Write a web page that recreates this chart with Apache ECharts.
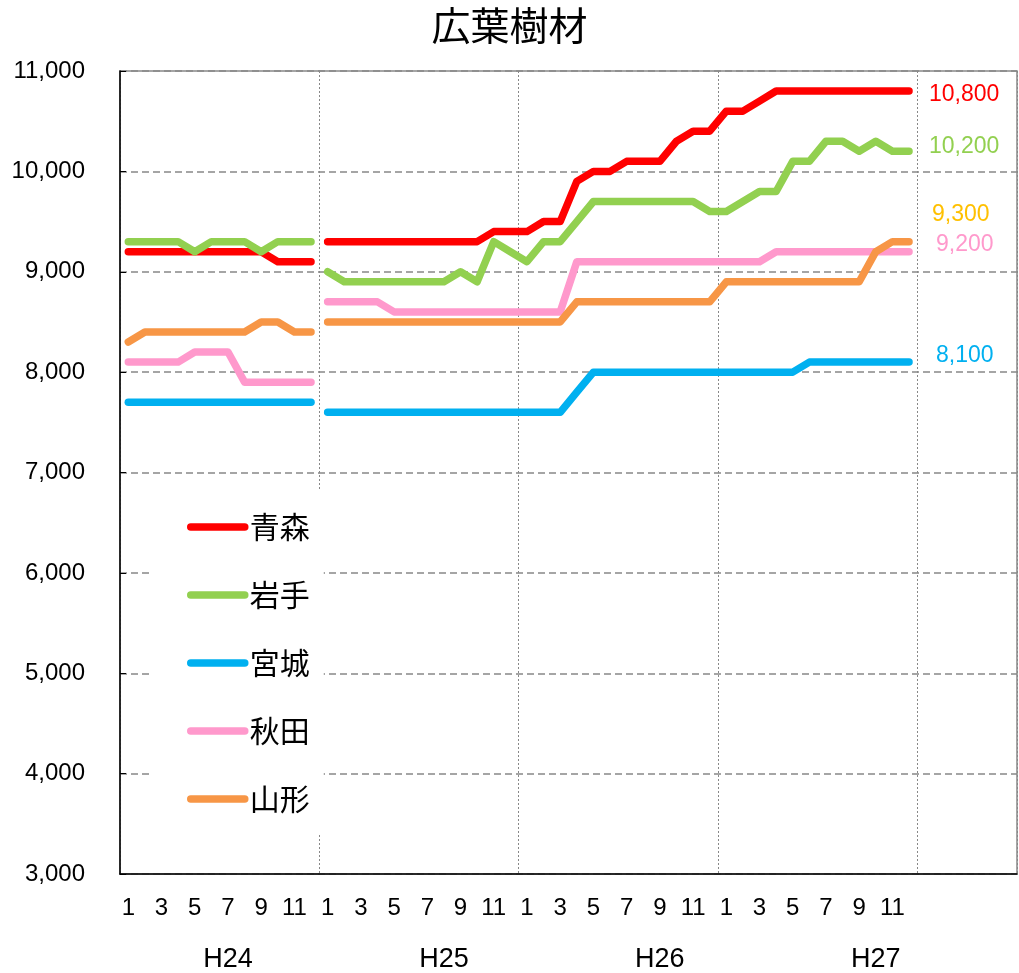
<!DOCTYPE html>
<html>
<head>
<meta charset="utf-8">
<script src="https://cdn.jsdelivr.net/npm/echarts@6/dist/echarts.min.js"></script>
<style>
  html, body { margin: 0; padding: 0; background: #fff; }
  #chart { width: 1019px; height: 973px; }
</style>
</head>
<body>
<div id="chart"></div>
<script>
  // months H24 .. H27 (48 points), the last 6 categories are empty space
  const months = [1, 2, 3, 4, 5, 6, 7, 8, 9, 10, 11, 12];
  const years = ['H24', 'H25', 'H26', 'H27'];

  const aomori = [
    9200, 9200, 9200, 9200, 9200, 9200, 9200, 9200, 9200, 9100, 9100, 9100,
    9300, 9300, 9300, 9300, 9300, 9300, 9300, 9300, 9300, 9300, 9400, 9400,
    9400, 9500, 9500, 9900, 10000, 10000, 10100, 10100, 10100, 10300, 10400, 10400,
    10600, 10600, 10700, 10800, 10800, 10800, 10800, 10800, 10800, 10800, 10800, 10800
  ];
  const iwate = [
    9300, 9300, 9300, 9300, 9200, 9300, 9300, 9300, 9200, 9300, 9300, 9300,
    9000, 8900, 8900, 8900, 8900, 8900, 8900, 8900, 9000, 8900, 9300, 9200,
    9100, 9300, 9300, 9500, 9700, 9700, 9700, 9700, 9700, 9700, 9700, 9600,
    9600, 9700, 9800, 9800, 10100, 10100, 10300, 10300, 10200, 10300, 10200, 10200
  ];
  const miyagi = [
    7700, 7700, 7700, 7700, 7700, 7700, 7700, 7700, 7700, 7700, 7700, 7700,
    7600, 7600, 7600, 7600, 7600, 7600, 7600, 7600, 7600, 7600, 7600, 7600,
    7600, 7600, 7600, 7800, 8000, 8000, 8000, 8000, 8000, 8000, 8000, 8000,
    8000, 8000, 8000, 8000, 8000, 8100, 8100, 8100, 8100, 8100, 8100, 8100
  ];
  const akita = [
    8100, 8100, 8100, 8100, 8200, 8200, 8200, 7900, 7900, 7900, 7900, 7900,
    8700, 8700, 8700, 8700, 8600, 8600, 8600, 8600, 8600, 8600, 8600, 8600,
    8600, 8600, 8600, 9100, 9100, 9100, 9100, 9100, 9100, 9100, 9100, 9100,
    9100, 9100, 9100, 9200, 9200, 9200, 9200, 9200, 9200, 9200, 9200, 9200
  ];
  const yamagata = [
    8300, 8400, 8400, 8400, 8400, 8400, 8400, 8400, 8500, 8500, 8400, 8400,
    8500, 8500, 8500, 8500, 8500, 8500, 8500, 8500, 8500, 8500, 8500, 8500,
    8500, 8500, 8500, 8700, 8700, 8700, 8700, 8700, 8700, 8700, 8700, 8700,
    8900, 8900, 8900, 8900, 8900, 8900, 8900, 8900, 8900, 9200, 9300, 9300
  ];

  const prefs = [
    { name: '青森', data: aomori, color: '#FF0000', labelColor: '#FF0000', off: [20, 4] },
    { name: '岩手', data: iwate, color: '#92D050', labelColor: '#92D050', off: [20, -5] },
    { name: '宮城', data: miyagi, color: '#00B0F0', labelColor: '#00B0F0', off: [27, -6] },
    { name: '秋田', data: akita, color: '#FF99CC', labelColor: '#FF99CC', off: [27, -7] },
    { name: '山形', data: yamagata, color: '#F79646', labelColor: '#FFC000', off: [23, -27] }
  ];

  const EXTRA = 6;
  let monthLabels = [];
  years.forEach(() => months.forEach(m => monthLabels.push(String(m))));
  for (let i = 0; i < EXTRA; i++) monthLabels.push('');

  // year captions sit on a second category axis under the month labels
  const yearSlot = [6, 19, 32, 45];
  const yearLabels = monthLabels.map(() => '');
  years.forEach((y, i) => { yearLabels[yearSlot[i]] = y; });

  const fmt = v => Number(v).toLocaleString('en-US');
  const latin = '"Liberation Sans", Arial, sans-serif';
  const cjk = '"Noto Sans CJK JP", sans-serif';

  let series = [];
  prefs.forEach(p => {
    const line = { width: 7.5, color: p.color, cap: 'round', join: 'round' };
    // H24 is drawn separately, the line breaks before H25
    series.push({
      name: p.name, type: 'line', symbol: 'none', color: p.color,
      lineStyle: line, data: p.data.slice(0, 12)
    });
    series.push({
      name: p.name, type: 'line', symbol: 'none', color: p.color,
      lineStyle: line,
      data: new Array(12).fill(null).concat(p.data.slice(12)),
      endLabel: {
        show: true, distance: 0, offset: p.off,
        formatter: q => fmt(q.value),
        color: p.labelColor, fontSize: 23, fontFamily: latin
      }
    });
  });

  const chart = echarts.init(document.getElementById('chart'));
  chart.setOption({
    backgroundColor: '#FFFFFF',
    animation: false,
    title: {
      text: '広葉樹材', left: 'center', top: 1,
      textStyle: { fontSize: 39, fontWeight: 'normal', color: '#000', fontFamily: cjk }
    },
    legend: {
      orient: 'vertical', left: 153, top: 490,
      backgroundColor: '#FFFFFF',
      padding: [22, 14, 20, 34],
      itemWidth: 54, itemHeight: 7, itemGap: 38,
      lineStyle: { width: 7.5, cap: 'round' },
      textStyle: { fontSize: 30, color: '#000', fontFamily: cjk },
      data: prefs.map(p => p.name)
    },
    grid: {
      left: 120, right: 2, top: 71, bottom: 93,
      show: true, borderColor: '#888', borderWidth: 1.5
    },
    xAxis: [{
      type: 'category', data: monthLabels, boundaryGap: true,
      axisLine: { lineStyle: { color: '#000', width: 1.5 } },
      axisTick: { inside: true, length: 5, interval: 5, lineStyle: { color: '#000' } },
      axisLabel: { interval: 1, margin: 22, fontSize: 24, color: '#000', fontFamily: latin },
      splitLine: { show: true, interval: 11, lineStyle: { color: '#888', type: [2, 2], width: 1 } }
    }, {
      type: 'category', data: yearLabels, position: 'bottom', boundaryGap: true,
      axisLine: { show: false }, axisTick: { show: false },
      axisLabel: { interval: 0, margin: 72, fontSize: 27, color: '#000', fontFamily: latin },
      splitLine: { show: false }
    }],
    yAxis: {
      type: 'value', min: 3000, max: 11000, interval: 1000,
      axisLine: { show: true, lineStyle: { color: '#000', width: 1.5 } },
      axisTick: { show: true, inside: true, length: 6, lineStyle: { color: '#000' } },
      axisLabel: { margin: 35, fontSize: 24, color: '#000', fontFamily: latin, formatter: fmt },
      splitLine: { lineStyle: { color: '#888', type: [7, 4], width: 1.5 } }
    },
    series: series
  });
</script>
</body>
</html>
